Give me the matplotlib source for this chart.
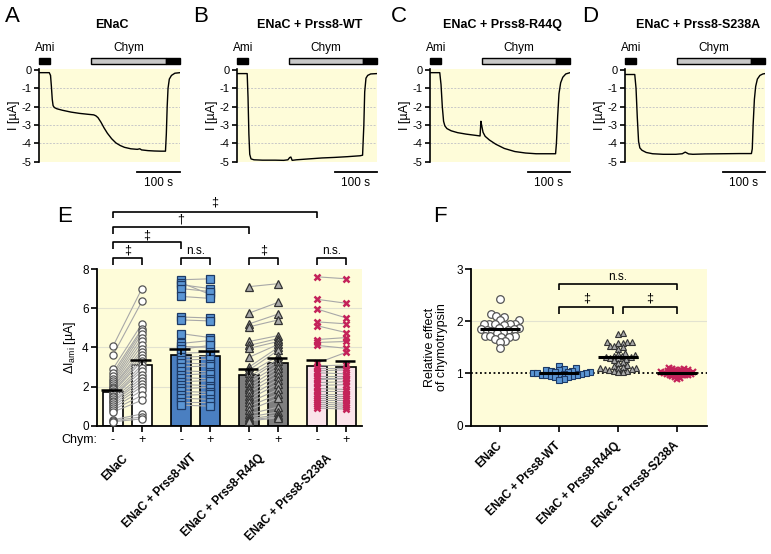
import numpy as np
import matplotlib
matplotlib.use("Agg")
import matplotlib.pyplot as plt
import matplotlib.transforms as mtransforms
from matplotlib.patches import Rectangle

plt.rcParams['font.family'] = ['Liberation Sans', 'DejaVu Sans']
plt.rcParams['axes.unicode_minus'] = False
plt.rcParams['mathtext.fontset'] = 'custom'
plt.rcParams['mathtext.rm'] = 'Liberation Sans'
plt.rcParams['mathtext.it'] = 'Liberation Sans:italic'

W, H = 771, 554
YELLOW = '#fefcd9'

# ---- traces (A-D): time [s], current [uA] ----
trace_titles = ["ENaC", "ENaC + Prss8-WT", "ENaC + Prss8-R44Q", "ENaC + Prss8-S238A"]
trace_letters = ["A", "B", "C", "D"]

tA = [0, 24, 27, 29, 31, 33, 36, 42, 55, 75, 95, 115, 128, 133, 138, 145, 152, 160, 170, 180,
      190, 200, 215, 230, 236, 240, 255, 270, 285, 296, 298, 300, 302, 305, 310, 318, 330]
iA = [-0.15, -0.15, -0.3, -0.9, -1.6, -1.95, -2.05, -2.12, -2.2, -2.3, -2.37, -2.42, -2.45, -2.5,
      -2.6, -2.85, -3.15, -3.45, -3.75, -3.98, -4.12, -4.22, -4.3, -4.33, -4.3, -4.36, -4.4, -4.42,
      -4.43, -4.43, -3.5, -2.0, -1.0, -0.5, -0.3, -0.18, -0.15]

tB = [0, 24, 26, 28, 30, 33, 40, 60, 90, 110, 120, 124, 127, 130, 140, 170, 200, 230, 260, 290,
      296, 299, 301, 304, 308, 315, 330]
iB = [-0.2, -0.2, -1.5, -3.5, -4.6, -4.85, -4.9, -4.92, -4.92, -4.93, -4.9, -4.78, -4.75, -4.93,
      -4.9, -4.85, -4.8, -4.77, -4.73, -4.68, -4.65, -3.0, -1.2, -0.45, -0.3, -0.22, -0.2]

tC = [0, 23, 26, 29, 32, 35, 40, 50, 65, 85, 105, 118, 119, 120, 122, 125, 130, 140, 155, 175,
      200, 225, 250, 275, 296, 298, 301, 304, 308, 313, 320, 330]
iC = [-0.15, -0.15, -0.8, -2.0, -2.8, -3.05, -3.2, -3.32, -3.42, -3.5, -3.56, -3.6, -3.2, -2.8,
      -3.05, -3.4, -3.62, -3.82, -4.05, -4.28, -4.45, -4.53, -4.57, -4.57, -4.57, -4.0, -2.5,
      -1.3, -0.7, -0.4, -0.22, -0.15]

tD = [0, 23, 26, 29, 32, 35, 40, 50, 65, 90, 120, 135, 142, 150, 160, 190, 230, 270, 298, 300,
      302, 305, 308, 312, 318, 325, 330]
iD = [-0.25, -0.25, -1.0, -2.6, -3.9, -4.25, -4.38, -4.5, -4.57, -4.6, -4.6, -4.57, -4.48, -4.58,
      -4.6, -4.58, -4.57, -4.56, -4.56, -4.3, -3.0, -1.6, -0.9, -0.5, -0.3, -0.22, -0.2]

traces = [(tA, iA), (tB, iB), (tC, iC), (tD, iD)]
ami_on, ami_off = 0, 26
chym_on, wash_on, t_end = 122, 297, 330

# ---- panel E: delta I_ami [uA], paired -/+ chymotrypsin ----
groups = ["ENaC", "ENaC + Prss8-WT", "ENaC + Prss8-R44Q", "ENaC + Prss8-S238A"]

enac_minus = [4.05, 3.6, 2.9, 2.7, 2.55, 2.4, 2.3, 2.2, 2.1, 2.0, 1.95, 1.85, 1.75, 1.7, 1.6,
              1.5, 1.45, 1.35, 1.25, 1.2, 1.1, 1.0, 0.9, 0.8, 0.7, 0.3, 0.25, 0.2]
enac_plus = [7.0, 6.35, 5.2, 4.95, 4.85, 4.7, 4.5, 4.3, 4.1, 3.9, 3.75, 3.6, 3.45, 3.3, 3.1,
             2.95, 2.8, 2.6, 2.45, 2.3, 2.15, 2.0, 1.8, 1.55, 1.3, 0.6, 0.45, 0.35]
wt_minus = [7.45, 7.3, 7.2, 7.0, 6.6, 5.55, 5.4, 4.7, 4.2, 4.05, 3.9, 3.7, 3.5, 3.35, 3.2, 3.0,
            2.8, 2.6, 2.45, 2.25, 2.1, 1.9, 1.75, 1.55, 1.4, 1.2, 1.05]
wt_plus = [7.5, 6.7, 7.0, 6.85, 6.5, 5.5, 5.35, 4.5, 4.35, 4.0, 4.1, 3.75, 3.55, 3.4, 3.15, 3.05,
           2.75, 2.65, 2.4, 2.3, 2.05, 1.95, 1.7, 1.6, 1.35, 1.2, 1.0]
r44q_minus = [7.1, 5.75, 5.2, 5.05, 4.3, 4.1, 3.95, 3.5, 3.0, 2.85, 2.7, 2.5, 2.35, 2.2, 2.0,
              1.85, 1.7, 1.5, 1.35, 1.2, 1.0, 0.8, 0.6, 0.45, 0.35, 0.3, 0.25]
r44q_plus = [7.25, 6.3, 5.7, 5.4, 4.6, 4.45, 4.3, 4.15, 4.0, 3.85, 3.55, 3.4, 3.3, 3.1, 2.95,
             2.75, 2.55, 2.35, 2.15, 1.85, 1.6, 1.4, 0.95, 0.7, 0.55, 0.45, 0.4]
s238a_minus = [7.6, 6.45, 5.95, 5.3, 5.1, 4.4, 4.25, 4.1, 3.2, 3.05, 2.95, 2.8, 2.7, 2.55, 2.45,
               2.35, 2.2, 2.05, 1.9, 1.75, 1.6, 1.5, 1.4, 1.3, 1.2, 1.1, 1.0, 0.9]
s238a_plus = [7.5, 6.25, 5.5, 5.2, 4.75, 4.5, 4.3, 3.95, 3.75, 3.1, 2.95, 2.85, 2.65, 2.55, 2.45,
              2.4, 2.25, 2.1, 1.85, 1.75, 1.6, 1.5, 1.4, 1.3, 1.15, 1.05, 0.95, 0.85]

e_minus = [enac_minus, wt_minus, r44q_minus, s238a_minus]
e_plus = [enac_plus, wt_plus, r44q_plus, s238a_plus]
e_mean_minus = [1.7, 3.6, 2.6, 3.05]
e_sem_minus = [0.13, 0.3, 0.28, 0.3]
e_mean_plus = [3.1, 3.57, 3.18, 2.98]
e_sem_plus = [0.26, 0.23, 0.29, 0.32]

# ---- panel F: relative effect of chymotrypsin ----
enac_F = [2.42, 2.14, 2.08, 2.1, 2.02, 2.02, 1.95, 1.95, 1.95, 1.94, 1.94, 1.93, 1.88, 1.87,
          1.86, 1.85, 1.84, 1.83, 1.82, 1.8, 1.78, 1.72, 1.72, 1.71, 1.7, 1.69, 1.66, 1.62,
          1.6, 1.49]
wt_F = [1.15, 1.1, 1.08, 1.07, 1.06, 1.05, 1.04, 1.03, 1.02, 1.02, 1.01, 1.0, 1.0, 0.99, 0.99,
        0.98, 0.98, 0.97, 0.97, 0.96, 0.95, 0.94, 0.93, 0.9, 0.88]
r44q_F = [1.77, 1.76, 1.6, 1.6, 1.59, 1.58, 1.6, 1.53, 1.52, 1.5, 1.47, 1.4, 1.38, 1.36, 1.34,
          1.33, 1.32, 1.31, 1.3, 1.29, 1.28, 1.25, 1.22, 1.2, 1.17, 1.14, 1.12, 1.11, 1.1, 1.1,
          1.09, 1.08, 1.06, 1.05, 1.04, 1.03, 1.02]
s238a_F = [1.1, 1.09, 1.08, 1.07, 1.07, 1.06, 1.05, 1.05, 1.04, 1.03, 1.03, 1.02, 1.02, 1.01,
           1.01, 1.0, 1.0, 0.99, 0.99, 0.98, 0.98, 0.97, 0.97, 0.96, 0.95, 0.94, 0.92, 0.9]
f_vals = [enac_F, wt_F, r44q_F, s238a_F]
f_mean = [1.85, 1.0, 1.32, 1.0]

# styles per group
bar_fc = ['white', '#4a7fc1', '#7f7f7f', '#fae3ea']
mk = ['o', 's', '^', 'x']
mk_fc = ['white', '#5b96d4', '#a9a9a9', '#c4235a']
mk_ec = ['#555555', '#1d3a66', '#333333', '#c4235a']


def px_axes(fig, x0, y0, x1, y1):
    return fig.add_axes([x0 / W, 1 - y1 / H, (x1 - x0) / W, (y1 - y0) / H])


def bracket(ax, x0, x1, y, leg, text, ty, fs=9, va='center'):
    ax.plot([x0, x0, x1, x1], [y - leg, y, y, y - leg], color='black', lw=1.2,
            clip_on=False, solid_capstyle='butt')
    ax.text((x0 + x1) / 2, ty, text, ha='center', va=va, fontsize=fs, clip_on=False)


def swarm(vals, d_px, xscale, yscale):
    offs = np.zeros(len(vals))
    placed = []
    cands = [0.0]
    for k in np.arange(0.5, 60, 0.5):
        cands += [k, -k]
    for i in np.argsort(vals):
        y = vals[i] * yscale
        for c in cands:
            if all((c - px) ** 2 + (y - py) ** 2 >= d_px ** 2 for px, py in placed):
                break
        placed.append((c, y))
        offs[i] = c / xscale
    return offs


fig = plt.figure(figsize=(W / 100, H / 100), dpi=100)

# ---------- A-D ----------
trace_boxes = [(39, 69, 180, 162), (237, 69, 377, 162), (430, 69, 570, 162), (625, 69, 765, 162)]
letter_x = [5, 193, 391, 582]
for k in range(4):
    x0, y0, x1, y1 = trace_boxes[k]
    ax = px_axes(fig, x0, y0, x1, y1)
    ax.set_facecolor(YELLOW)
    t, cur = traces[k]
    ax.plot(t, cur, color='black', lw=1.0)
    ax.set_xlim(0, t_end)
    ax.set_ylim(-5.02, 0.05)
    for g in range(-1, -6, -1):
        ax.axhline(g, color='#c8c8c8', lw=0.7, ls=(0, (2, 1.5)), zorder=0)
    for s in ['top', 'right', 'bottom']:
        ax.spines[s].set_visible(False)
    ax.spines['left'].set_linewidth(1.2)
    ax.set_xticks([])
    ax.set_yticks(range(0, -6, -1))
    ax.set_yticklabels([str(v) for v in range(0, -6, -1)], fontsize=8)
    ax.tick_params(axis='y', length=3.5, width=1.2, pad=2)
    ax.set_ylabel('I [µA]', fontsize=9, labelpad=1)
    tr = mtransforms.blended_transform_factory(ax.transData, ax.transAxes)
    ax.add_patch(Rectangle((ami_on, 1.054), ami_off - ami_on, 0.064, transform=tr,
                           facecolor='black', edgecolor='black', lw=1, clip_on=False))
    ax.add_patch(Rectangle((chym_on, 1.054), wash_on - chym_on, 0.064, transform=tr,
                           facecolor='#c8c8c8', edgecolor='black', lw=1, clip_on=False))
    ax.add_patch(Rectangle((wash_on, 1.054), t_end - wash_on, 0.064, transform=tr,
                           facecolor='black', edgecolor='black', lw=1, clip_on=False))
    ax.text((ami_on + ami_off) / 2 + 2, 1.23, 'Ami', transform=tr, ha='center', va='center',
            fontsize=8.5)
    ax.text((chym_on + wash_on) / 2, 1.23, 'Chym', transform=tr, ha='center', va='center',
            fontsize=8.5)
    ax.text(0.52, 1.47, trace_titles[k], transform=ax.transAxes, ha='center', va='center',
            fontsize=9, fontweight='bold')
    ax.plot([t_end - 100, t_end], [-0.108, -0.108], transform=tr, color='black', lw=1.3,
            clip_on=False)
    ax.text(t_end - 50, -0.23, '100 s', transform=tr, ha='center', va='center', fontsize=8.5)
    fig.text(letter_x[k] / W, 1 - 22 / H, trace_letters[k], fontsize=16, va='baseline')

# ---------- E ----------
axE = px_axes(fig, 97, 269, 362, 425.7)
axE.set_facecolor(YELLOW)
gap = 2.35
bw = 0.7
xpos = []
for g in range(4):
    xm, xp = g * gap, g * gap + 1
    xpos += [xm, xp]
    axE.bar([xm, xp], [e_mean_minus[g], e_mean_plus[g]], width=bw, color=bar_fc[g],
            edgecolor='black', lw=1.2, zorder=2)
    for a, b in zip(e_minus[g], e_plus[g]):
        axE.plot([xm, xp], [a, b], color='#a8a8a8', lw=0.8, zorder=3)
    for xx, vals in [(xm, e_minus[g]), (xp, e_plus[g])]:
        if mk[g] == 'x':
            axE.plot([xx] * len(vals), vals, ls='none', marker='x', ms=5, mew=1.8,
                     color=mk_fc[g], zorder=4)
        else:
            axE.plot([xx] * len(vals), vals, ls='none', marker=mk[g], ms=5.2, mfc=mk_fc[g],
                     mec=mk_ec[g], mew=0.9, zorder=4)
    for xx, m, s in [(xm, e_mean_minus[g], e_sem_minus[g]), (xp, e_mean_plus[g], e_sem_plus[g])]:
        axE.vlines(xx, m, m + s, color='black', lw=1.2, zorder=5)
        axE.hlines(m + s, xx - bw / 2 - 0.05, xx + bw / 2 - 0.05, color='black', lw=1.8, zorder=5)

axE.set_xlim(-0.55, 8.05 + 0.54)
axE.set_ylim(0, 8)
for g in [2, 4, 6]:
    axE.axhline(g, color='#e2e2d0', lw=0.8, zorder=0)
for s in ['top', 'right']:
    axE.spines[s].set_visible(False)
for s in ['left', 'bottom']:
    axE.spines[s].set_linewidth(1.3)
axE.set_yticks([0, 2, 4, 6, 8])
axE.set_yticklabels(['0', '2', '4', '6', '8'], fontsize=8.5)
axE.set_xticks(xpos)
axE.set_xticklabels([])
axE.tick_params(length=4, width=1.2, pad=2)
axE.set_ylabel(r'$\Delta\mathrm{I}_{\mathrm{ami}}$ [µA]', fontsize=9, labelpad=3)

trE = mtransforms.blended_transform_factory(axE.transData, axE.transAxes)
axE.text(0, -0.091, 'Chym:', transform=axE.transAxes, ha='right', va='center', fontsize=9)
for i, xx in enumerate(xpos):
    axE.text(xx, -0.091, '-' if i % 2 == 0 else '+', transform=trE, ha='center', va='center',
             fontsize=9)
for g in range(4):
    axE.text(g * gap + 0.5 + 0.1, -0.17, groups[g], transform=trE, ha='right', va='top',
             rotation=45, fontsize=8.5, fontweight='bold')

bracket(axE, 0, 1, 8.56, 0.36, '‡', 8.95)
bracket(axE, gap, gap + 1, 8.56, 0.36, 'n.s.', 8.6, fs=8.5, va='bottom')
bracket(axE, 2 * gap, 2 * gap + 1, 8.56, 0.36, '‡', 8.95)
bracket(axE, 3 * gap, 3 * gap + 1, 8.56, 0.36, 'n.s.', 8.6, fs=8.5, va='bottom')
bracket(axE, 0, gap, 9.36, 0.34, '‡', 9.72)
bracket(axE, 0, 2 * gap, 10.13, 0.34, '†', 10.55)
bracket(axE, 0, 3 * gap, 10.92, 0.34, '‡', 11.4)
fig.text(57 / W, 1 - 222 / H, 'E', fontsize=16, va='baseline')

# ---------- F ----------
axF = px_axes(fig, 471, 269, 706.7, 425.7)
axF.set_facecolor(YELLOW)
axF.set_xlim(-0.49, 3.5)
axF.set_ylim(0, 3)
xscale = (706.7 - 471) / 3.99
yscale = (425.7 - 269) / 3.0
d_px = [5.3, 4.4, 4.5, 2.8]
for g in range(4):
    vals = np.array(f_vals[g])
    xs = g + swarm(vals, d_px[g], xscale, yscale)
    if mk[g] == 'x':
        axF.plot(xs, vals, ls='none', marker='x', ms=4, mew=1.6, color=mk_fc[g], zorder=4)
    elif mk[g] == 'o':
        axF.plot(xs, vals, ls='none', marker='o', ms=5.5, mfc=mk_fc[g], mec=mk_ec[g],
                 mew=0.9, zorder=4)
    else:
        axF.plot(xs, vals, ls='none', marker=mk[g], ms=4.6, mfc=mk_fc[g], mec=mk_ec[g],
                 mew=0.8, zorder=4)
    axF.hlines(f_mean[g], g - 0.34, g + 0.34, color='black', lw=2.2, zorder=5)

axF.axhline(1, color='black', lw=1.3, ls=(0, (1, 1.5)), zorder=3)
axF.axhline(2, color='#e2e2d0', lw=0.8, zorder=0)
for s in ['top', 'right']:
    axF.spines[s].set_visible(False)
for s in ['left', 'bottom']:
    axF.spines[s].set_linewidth(1.3)
axF.set_yticks([0, 1, 2, 3])
axF.set_yticklabels(['0', '1', '2', '3'], fontsize=8.5)
axF.set_xticks([0, 1, 2, 3])
axF.set_xticklabels([])
axF.tick_params(length=4, width=1.2, pad=2)
axF.set_ylabel('Relative effect\nof chymotrypsin', fontsize=9, labelpad=6, linespacing=1.0)
trF = mtransforms.blended_transform_factory(axF.transData, axF.transAxes)
for g in range(4):
    axF.text(g + 0.07, -0.09, groups[g], transform=trF, ha='right', va='top', rotation=45,
             fontsize=8.5, fontweight='bold')

bracket(axF, 1, 3, 2.71, 0.11, 'n.s.', 2.73, fs=8.5, va='bottom')
bracket(axF, 1, 1.92, 2.27, 0.13, '‡', 2.43)
bracket(axF, 2.08, 3, 2.27, 0.13, '‡', 2.43)
fig.text(433 / W, 1 - 222 / H, 'F', fontsize=16, va='baseline')

fig.savefig('out.png', dpi=100, facecolor='white')
